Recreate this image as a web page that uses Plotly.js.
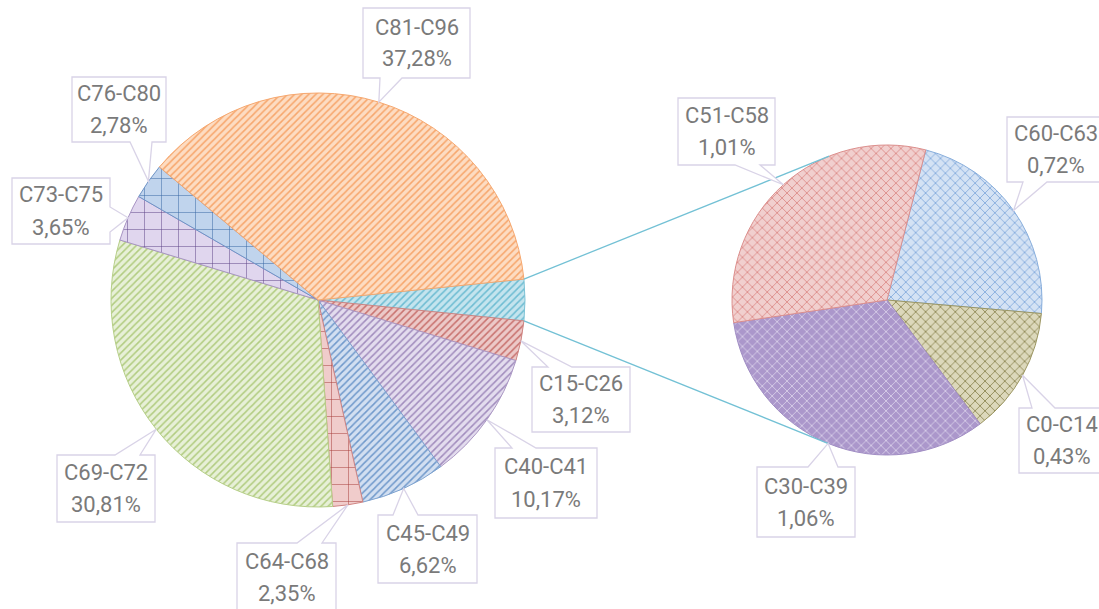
<!DOCTYPE html>
<html><head><meta charset="utf-8">
<script src="https://cdn.plot.ly/plotly-3.0.1.min.js"></script>
<style>html,body{margin:0;padding:0;background:#fff;} #chart{width:1099px;height:609px;}</style>
</head><body><div id="chart"></div>
<script>
// ---- data ----
const mainLabels = ['C15-C26','C40-C41','C45-C49','C64-C68','C69-C72','C73-C75','C76-C80','C81-C96'];
const mainValues = [3.12, 10.17, 6.62, 2.35, 30.81, 3.65, 2.78, 37.28];
const subLabels = ['C60-C63','C0-C14','C30-C39','C51-C58'];
const subValues = [0.72, 0.43, 1.06, 1.01];
const otherLabel = 'Other';

// ---- styles ----
const mainStyle = {
  'Other':   {bg:'#c4e4ee', fg:'#6dbcd2', line:'#7cc3d6', shape:'/', size:5, sol:0.3},
  'C15-C26': {bg:'#ecc9c8', fg:'#c8716e', line:'#cf8583', shape:'/', size:5, sol:0.3},
  'C40-C41': {bg:'#e3dcee', fg:'#a18cbd', line:'#ab98c4', shape:'/', size:5, sol:0.3},
  'C45-C49': {bg:'#d2dff1', fg:'#7099cb', line:'#7ea3d0', shape:'/', size:5, sol:0.3},
  'C64-C68': {bg:'#f0cccb', fg:'#a8403d', line:'#d08482', shape:'+', size:17, sol:0.06},
  'C69-C72': {bg:'#e7f0d7', fg:'#b1cc80', line:'#b6cf88', shape:'/', size:5, sol:0.3},
  'C73-C75': {bg:'#e0d6ee', fg:'#5f4788', line:'#a894c4', shape:'+', size:17, sol:0.06},
  'C76-C80': {bg:'#c0d4ed', fg:'#3b6aa6', line:'#6d93c6', shape:'+', size:17, sol:0.06},
  'C81-C96': {bg:'#fddcc2', fg:'#f7a66c', line:'#f6a76e', shape:'/', size:5, sol:0.3}
};
const subStyle = {
  'C60-C63': {bg:'#d4e2f4', fg:'#7ea6da', line:'#88aedc', shape:'x', size:7, sol:0.22},
  'C0-C14':  {bg:'#dcd8bb', fg:'#857f4a', line:'#9c9662', shape:'x', size:7, sol:0.22},
  'C30-C39': {bg:'#ab97cb', fg:'#ddd4ec', line:'#a18ec4', shape:'x', size:7, sol:0.22},
  'C51-C58': {bg:'#f1cfce', fg:'#d98583', line:'#dc8f8d', shape:'x', size:7, sol:0.22}
};
const W = 1099, H = 609;
const MAIN = {cx:318, cy:300, r:207, rot:84.2};
const SUB = {cx:887, cy:300, r:155, rot:14.5};
const callouts = {
  'C15-C26': {box:[532,367,630,432], side:'top', base:[548,572]},
  'C40-C41': {box:[495,448,597,518], side:'top', base:[512,536]},
  'C45-C49': {box:[378,515,477,583], side:'top', base:[393,418]},
  'C64-C68': {box:[237,543,336,612], side:'top', base:[297,322]},
  'C69-C72': {box:[57,455,155,522], side:'top', base:[115,140]},
  'C73-C75': {box:[12,178,110,244], side:'right', base:[207,232]},
  'C76-C80': {box:[72,77,166,142], side:'bottom', base:[130,152]},
  'C81-C96': {box:[363,8,470,78], side:'bottom', base:[380,402]},
  'C60-C63': {box:[1007,117,1105,182], side:'bottom', base:[1023,1047]},
  'C0-C14':  {box:[1019,408,1105,473], side:'top', base:[1032,1055]},
  'C30-C39': {box:[757,467,855,537], side:'top', base:[808,838]},
  'C51-C58': {box:[678,98,775,165], side:'bottom', base:[735,760]}
};

// ---- helpers ----
const X = x => x / W, Y = y => 1 - y / H;
const rad = d => d * Math.PI / 180;
function pt(g, a) { return [g.cx + g.r * Math.sin(rad(a)), g.cy - g.r * Math.cos(rad(a))]; }
function angles(g, vals) {
  const tot = vals.reduce((a, b) => a + b, 0);
  let cur = g.rot; const out = [];
  vals.forEach(v => { const span = v / tot * 360; out.push({start:cur, end:cur + span, mid:cur + span / 2}); cur += span; });
  return out;
}
function domain(g) {
  return {x:[X(g.cx - g.r), X(g.cx + g.r)], y:[Y(g.cy + g.r), Y(g.cy - g.r)]};
}
const fmt = v => v.toFixed(2).replace('.', ',') + '%';

const otherValue = subValues.reduce((a, b) => a + b, 0);
const allMainLabels = [otherLabel].concat(mainLabels);
const allMainValues = [otherValue].concat(mainValues);
const mainTot = allMainValues.reduce((a, b) => a + b, 0);

function pieTrace(labels, values, styleMap, g) {
  const st = labels.map(l => styleMap[l]);
  return {
    type:'pie', labels:labels, values:values, sort:false, direction:'clockwise',
    rotation:g.rot, domain:domain(g), textinfo:'none', hoverinfo:'label+percent',
    showlegend:false,
    marker:{
      colors:st.map(s => s.bg),
      line:{color:st.map(s => s.line), width:1},
      pattern:{shape:st.map(s => s.shape), fgcolor:st.map(s => s.fg), bgcolor:st.map(s => s.bg),
               size:st.map(s => s.size), solidity:st.map(s => s.sol), fillmode:'replace'}
    }
  };
}

const shapes = [], annotations = [];
const mainAng = angles(MAIN, allMainValues);
const subAng = angles(SUB, subValues);
function tangent(P, sign) {
  const dx = P[0] - SUB.cx, dy = P[1] - SUB.cy;
  const d = Math.hypot(dx, dy);
  const phi = Math.atan2(dx, -dy) * 180 / Math.PI;
  const alpha = Math.acos(SUB.r / d) * 180 / Math.PI;
  return pt(SUB, phi + sign * alpha);
}
const pTop = pt(MAIN, mainAng[0].start), pBot = pt(MAIN, mainAng[0].end);
[[pTop, tangent(pTop, 1)], [pBot, tangent(pBot, -1)]].forEach(([a, b]) => {
  shapes.push({type:'line', xref:'paper', yref:'paper', x0:X(a[0]), y0:Y(a[1]), x1:X(b[0]), y1:Y(b[1]),
               line:{color:'#73c1d5', width:1.3}, layer:'above'});
});

function callout(label, value, tip) {
  const c = callouts[label]; const [l, t, r, b] = c.box; const [b1, b2] = c.base;
  let p;
  if (c.side === 'top') p = [[l,t],[b1,t],tip,[b2,t],[r,t],[r,b],[l,b]];
  else if (c.side === 'bottom') p = [[l,t],[r,t],[r,b],[b2,b],tip,[b1,b],[l,b]];
  else if (c.side === 'right') p = [[l,t],[r,t],[r,b1],tip,[r,b2],[r,b],[l,b]];
  else p = [[l,t],[r,t],[r,b],[l,b],[l,b2],tip,[l,b1]];
  const path = 'M' + p.map(q => X(q[0]).toFixed(5) + ',' + Y(q[1]).toFixed(5)).join('L') + 'Z';
  shapes.push({type:'path', xref:'paper', yref:'paper', path:path, fillcolor:'#ffffff',
               line:{color:'#d9d3e7', width:1.3}, layer:'above'});
  const cx = (l + r) / 2, cy = (t + b) / 2;
  const font = {family:'Roboto, "Open Sans", sans-serif', size:22, color:'#7a7a7a'};
  annotations.push({xref:'paper', yref:'paper', x:X(cx), y:Y(cy - 16), text:label, showarrow:false,
                    xanchor:'center', yanchor:'middle', font:font});
  annotations.push({xref:'paper', yref:'paper', x:X(cx), y:Y(cy + 16), text:fmt(value), showarrow:false,
                    xanchor:'center', yanchor:'middle', font:font});
}
mainLabels.forEach((l, i) => callout(l, mainValues[i] / mainTot * 100, pt(MAIN, mainAng[i + 1].mid)));
subLabels.forEach((l, i) => callout(l, subValues[i] / mainTot * 100, pt(SUB, subAng[i].mid)));

const data = [pieTrace(allMainLabels, allMainValues, mainStyle, MAIN), pieTrace(subLabels, subValues, subStyle, SUB)];
const layout = {
  width:W, height:H, margin:{l:0, r:0, t:0, b:0}, paper_bgcolor:'#ffffff', plot_bgcolor:'#ffffff',
  showlegend:false, shapes:shapes, annotations:annotations
};
Plotly.newPlot('chart', data, layout, {displayModeBar:false, staticPlot:true});
</script></body></html>
